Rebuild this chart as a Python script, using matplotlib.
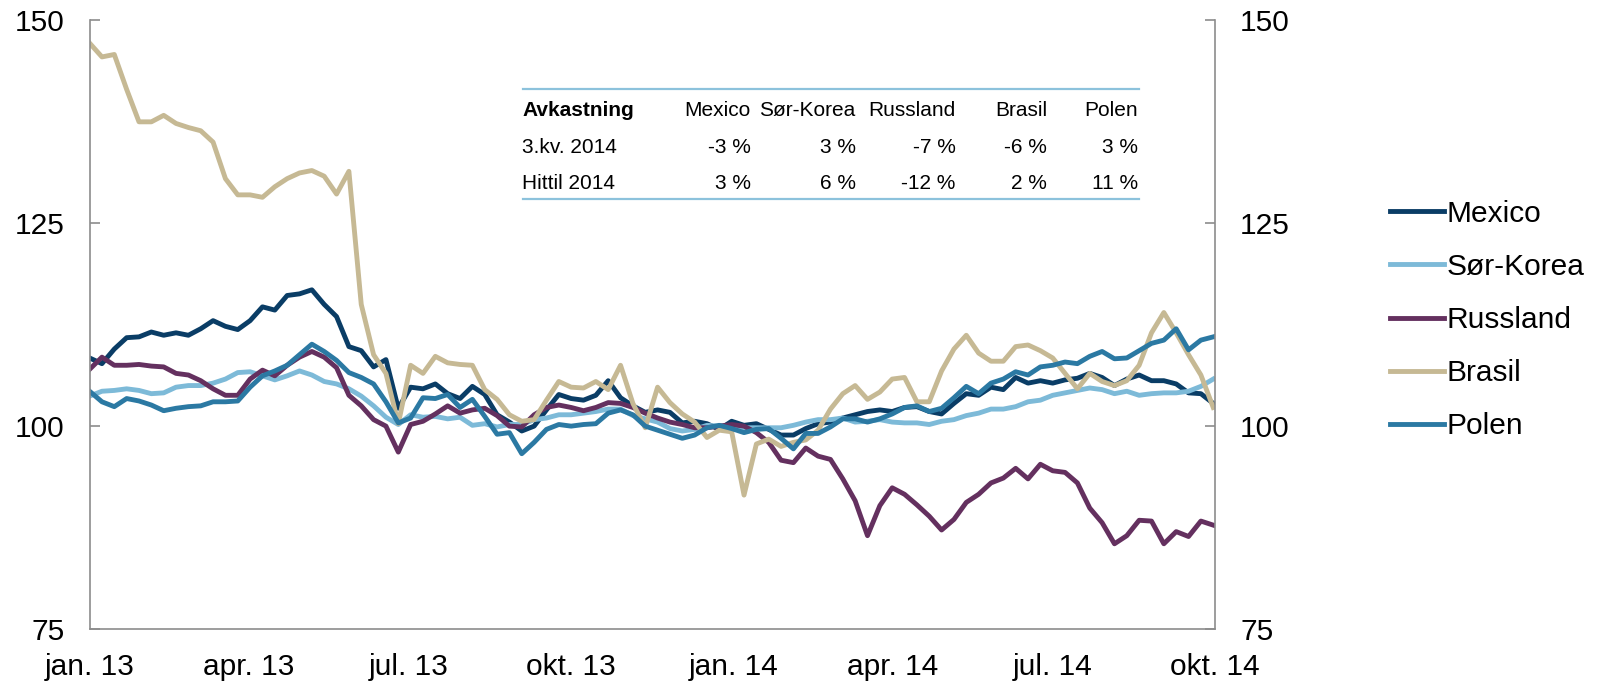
import numpy as np
import pandas as pd
import matplotlib
matplotlib.use('Agg')
import matplotlib.pyplot as plt
from matplotlib.lines import Line2D

plt.rcParams['font.family'] = ['Liberation Sans', 'DejaVu Sans']

dates = pd.date_range('2013-01-01', periods=92, freq='7D')

mexico = [108.4, 107.7, 109.5, 110.9, 111.0, 111.6, 111.2, 111.5, 111.2, 112.0,
          113.0, 112.3, 111.9, 113.0, 114.7, 114.3, 116.1, 116.3, 116.8, 115.0,
          113.5, 109.8, 109.3, 107.3, 108.2, 102.2, 104.8, 104.6, 105.2, 104.0,
          103.4, 104.9, 103.9, 101.4, 100.5, 99.4, 100.0, 102.0, 103.9, 103.4,
          103.2, 103.8, 105.6, 103.5, 102.5, 101.7, 102.0, 101.7, 100.4, 100.6,
          100.3, 99.6, 100.6, 100.1, 100.3, 99.6, 98.9, 98.9, 99.7, 100.3,
          100.5, 101.0, 101.4, 101.8, 102.0, 101.8, 102.3, 102.4, 101.8, 101.5,
          102.8, 104.0, 103.8, 104.8, 104.5, 106.0, 105.3, 105.6, 105.3, 105.7,
          105.9, 106.5, 106.0, 105.0, 105.8, 106.3, 105.6, 105.6, 105.2, 104.1,
          104.0, 102.8]
sor_korea = [103.7, 104.3, 104.4, 104.6, 104.4, 104.0, 104.1, 104.8, 105.0, 105.0,
             105.3, 105.8, 106.6, 106.7, 106.2, 105.7, 106.2, 106.8, 106.3, 105.5,
             105.2, 104.6, 103.7, 102.5, 101.1, 100.2, 101.4, 101.1, 101.2, 100.9,
             101.1, 100.1, 100.3, 99.9, 100.2, 100.2, 100.8, 101.0, 101.4, 101.4,
             101.6, 101.8, 102.1, 102.1, 101.3, 100.9, 100.5, 99.7, 99.4, 99.6,
             100.1, 100.0, 100.0, 99.8, 99.8, 99.8, 99.8, 100.1, 100.5, 100.8,
             100.8, 101.0, 100.5, 100.6, 100.8, 100.5, 100.4, 100.4, 100.2, 100.6,
             100.8, 101.3, 101.6, 102.1, 102.1, 102.4, 103.0, 103.2, 103.8, 104.1,
             104.4, 104.7, 104.5, 104.0, 104.3, 103.8, 104.0, 104.1, 104.1, 104.3,
             104.9, 105.8]
russland = [107.0, 108.5, 107.5, 107.5, 107.6, 107.4, 107.3, 106.5, 106.3, 105.6,
            104.6, 103.8, 103.8, 105.8, 106.9, 106.2, 107.5, 108.5, 109.2, 108.5,
            107.2, 103.8, 102.5, 100.8, 100.0, 96.8, 100.2, 100.6, 101.5, 102.5,
            101.6, 102.0, 102.2, 101.3, 100.0, 99.9, 101.4, 102.3, 102.6, 102.3,
            101.9, 102.3, 102.9, 102.8, 102.3, 101.6, 101.0, 100.5, 100.2, 99.8,
            99.8, 100.0, 100.2, 100.0, 99.2, 98.0, 95.8, 95.5, 97.3, 96.3,
            95.9, 93.5, 90.8, 86.5, 90.2, 92.4, 91.6, 90.3, 88.9, 87.2,
            88.5, 90.6, 91.6, 93.0, 93.6, 94.8, 93.5, 95.3, 94.5, 94.3,
            93.0, 89.9, 88.1, 85.5, 86.5, 88.4, 88.3, 85.5, 87.0, 86.4,
            88.3, 87.8]
brasil = [147.2, 145.5, 145.8, 141.5, 137.5, 137.5, 138.3, 137.3, 136.8, 136.4,
          135.0, 130.5, 128.5, 128.5, 128.2, 129.5, 130.5, 131.2, 131.5, 130.8,
          128.6, 131.4, 115.0, 108.8, 106.5, 100.3, 107.5, 106.5, 108.6, 107.8,
          107.6, 107.5, 104.5, 103.3, 101.4, 100.6, 100.8, 103.2, 105.5, 104.8,
          104.7, 105.5, 104.5, 107.5, 102.8, 99.8, 104.8, 102.9, 101.5, 100.5,
          98.6, 99.5, 99.3, 91.5, 97.8, 98.4, 97.5, 98.0, 98.3, 99.5,
          102.1, 104.0, 105.0, 103.3, 104.2, 105.8, 106.0, 103.0, 103.0, 106.8,
          109.5, 111.2, 109.0, 108.0, 108.0, 109.8, 110.0, 109.3, 108.4, 106.5,
          104.6, 106.5, 105.5, 105.0, 105.6, 107.5, 111.5, 114.0, 111.5, 108.8,
          106.3, 102.3]
polen = [104.3, 103.0, 102.4, 103.4, 103.1, 102.6, 101.9, 102.2, 102.4, 102.5,
         103.0, 103.0, 103.1, 104.8, 106.2, 106.8, 107.5, 108.8, 110.1, 109.2,
         108.1, 106.6, 106.0, 105.2, 103.0, 100.4, 101.0, 103.5, 103.4, 103.9,
         102.3, 103.3, 101.2, 99.0, 99.2, 96.6, 98.0, 99.6, 100.2, 100.0,
         100.2, 100.3, 101.6, 102.0, 101.4, 100.0, 99.5, 99.0, 98.5, 98.9,
         99.8, 100.1, 99.7, 99.2, 99.6, 99.7, 98.5, 97.2, 99.1, 99.1,
         99.9, 100.9, 100.9, 100.5, 100.9, 101.5, 102.3, 102.5, 101.8, 102.2,
         103.5, 104.9, 104.0, 105.3, 105.8, 106.7, 106.3, 107.3, 107.5, 107.9,
         107.7, 108.6, 109.2, 108.3, 108.4, 109.3, 110.2, 110.6, 112.0, 109.4,
         110.6, 111.0]

series_names = ['Mexico', 'Sør-Korea', 'Russland', 'Brasil', 'Polen']
series_colors = ['#0A3D66', '#7DBAD8', '#64305F', '#C6B994', '#2B79A3']

tick_dates = pd.date_range('2013-01-01', '2014-10-01', freq='QS')
tick_labels = ['jan. 13', 'apr. 13', 'jul. 13', 'okt. 13', 'jan. 14',
               'apr. 14', 'jul. 14', 'okt. 14']

table_cols = ['Avkastning', 'Mexico', 'Sør-Korea', 'Russland', 'Brasil', 'Polen']
table_rows = [['3.kv. 2014', '-3 %', '3 %', '-7 %', '-6 %', '3 %'],
              ['Hittil 2014', '3 %', '6 %', '-12 %', '2 %', '11 %']]

W, H = 1597, 682
fig = plt.figure(figsize=(W / 100, H / 100), dpi=100)
ax = fig.add_axes([89.6 / W, 1 - 629 / H, (1215 - 89.6) / W, (629 - 20.4) / H])

data = [mexico, sor_korea, russland, brasil, polen]
for name, vals, col in zip(series_names, data, series_colors):
    ax.plot(dates, vals, color=col, lw=3.5, label=name, solid_joinstyle='round')

ax.set_xlim(pd.Timestamp('2013-01-01'), pd.Timestamp('2014-10-01'))
ax.set_ylim(75, 150)
ax.set_yticks([75, 100, 125, 150])
ax.set_xticks(tick_dates)
ax.set_xticklabels(tick_labels)

ax.spines['top'].set_visible(False)
for s in ['left', 'right', 'bottom']:
    ax.spines[s].set_color('#8C8C8C')
    ax.spines[s].set_linewidth(1.2)

ax.tick_params(axis='y', which='both', direction='in', length=7, width=1.2,
               color='#8C8C8C', left=True, right=True, labelleft=True,
               labelright=True, labelsize=21.5, pad=18)
ax.tick_params(axis='x', length=0, labelsize=21.5, pad=17)

# inset table
def fx(px):
    return px / W


def fy(py):
    return 1 - py / H


rule_color = '#8CC2DC'
for ry in [88.6, 198.6]:
    fig.add_artist(Line2D([fx(522.5), fx(1138.7)], [fy(ry), fy(ry)],
                          color=rule_color, lw=1.6))

col_right = [750.6, 855.5, 955.4, 1047.0, 1137.7]
row_y = [110.0, 147.7, 183.3]
fig.text(fx(522.5), fy(row_y[0]), table_cols[0], fontsize=15, fontweight='bold',
         ha='left', va='center')
for j, c in enumerate(table_cols[1:]):
    fig.text(fx(col_right[j]), fy(row_y[0]), c, fontsize=15, ha='right', va='center')
for i, row in enumerate(table_rows):
    fig.text(fx(522.5), fy(row_y[i + 1]), row[0], fontsize=15, ha='left', va='center')
    for j, v in enumerate(row[1:]):
        fig.text(fx(col_right[j]), fy(row_y[i + 1]), v, fontsize=15,
                 ha='right', va='center')

leg = ax.legend(loc='center left', bbox_to_anchor=(1390 / W, fy(320)),
                bbox_transform=fig.transFigure, frameon=False, fontsize=21.5,
                handlelength=1.8, handletextpad=0.08, labelspacing=0.84,
                borderpad=0, borderaxespad=0)
for h in leg.get_lines():
    h.set_linewidth(3.5)

fig.savefig('out.png', dpi=100)
